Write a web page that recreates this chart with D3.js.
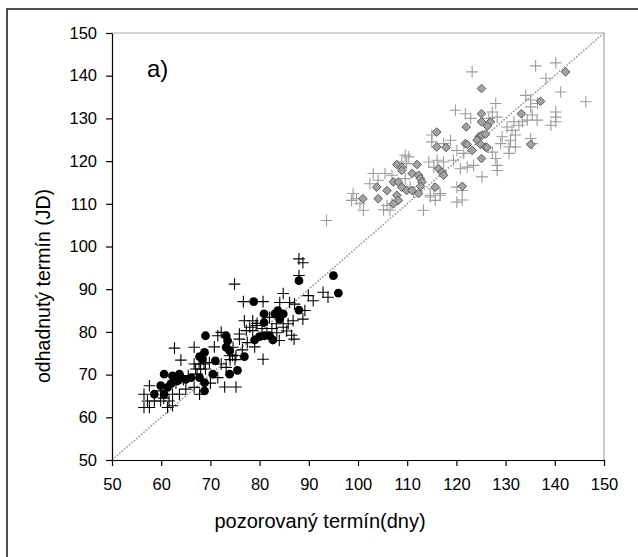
<!DOCTYPE html>
<html><head><meta charset="utf-8">
<script src="https://cdn.jsdelivr.net/npm/d3@7"></script>
<style>body{margin:0;background:#fff}svg{display:block}text{font-family:Arial,"Liberation Sans",sans-serif}</style>
</head><body><svg id="c" width="638" height="557"></svg>
<script>
const xTicks = [50,60,70,80,90,100,110,120,130,140,150];
const yTicks = [50,60,70,80,90,100,110,120,130,140,150];
const xTitle = "pozorovaný termín(dny)";
const yTitle = "odhadnutý termín (JD)";
const panelLabel = "a)";

// black crosses (lower group)
const blackCross = [
[62.7,76.2],[66.7,76.4],[71.5,79.1],[70.8,76.5],[64.0,73.4],
[66.7,72.5],[67.7,72.5],[68.7,72.5],[67.0,71.3],[68.0,71.3],[69.0,71.3],[67.3,70.1],
[69.8,72.8],[72.2,72.5],[73.2,71.7],[74.5,74.5],[75.0,73.5],[74.0,73.5],
[57.6,67.4],[56.5,65.4],[57.2,63.8],[58.6,63.8],[56.5,62.3],[57.6,62.3],[59.9,63.8],
[61.6,63.8],[61.3,62.3],[62.3,62.7],[63.7,65.4],[66.7,67.0],[67.8,65.4],[72.9,67.1],
[75.2,67.1],[62.3,65.4],[65.0,66.6],[71.5,69.3],[59.9,66.2],
[88.0,97.1],[88.8,96.2],[88.0,93.2],[74.9,91.2],[84.8,89.0],[76.7,87.1],[80.7,87.1],
[84.1,86.9],[86.1,86.9],[87.1,86.5],[89.9,88.5],[90.9,87.3],[92.9,89.3],[93.9,88.1],
[89.2,85.0],[88.8,83.0],[76.9,82.6],[78.6,82.6],[78.0,81.1],[82.0,83.4],[83.4,81.9],
[84.8,81.1],[85.8,81.9],[86.8,82.6],[77.3,80.3],[78.6,80.3],[79.3,81.5],[75.9,79.5],
[75.9,78.3],[72.2,79.9],[74.6,76.4],[73.9,74.4],[75.2,74.4],[80.7,73.6],
[79.5,82.0],[80.5,80.8],[81.5,79.8],[82.5,80.8],[83.5,79.8],[85.5,80.2],[86.5,79.2],
[77.5,77.5],[76.5,75.8],[79.0,76.5],[87.0,78.3],[84.0,78.0],
[65.5,69.8],[64.5,68.8],[70.0,68.0],[63.0,68.0],[60.5,64.5]
];
// black circles (lower group)
const blackDot = [
[69.0,79.1],[73.2,79.1],[73.5,77.9],[73.2,76.4],[73.9,75.6],[68.8,75.2],[67.8,74.2],
[68.4,73.6],[71.0,73.2],[60.6,70.1],[62.3,69.7],[63.7,70.1],[64.0,69.3],[65.0,68.9],
[66.1,69.3],[67.8,69.3],[68.8,68.1],[70.5,70.1],[73.9,70.1],[63.3,68.5],[62.0,67.9],
[59.9,67.4],[61.3,67.0],[58.6,65.4],[60.6,65.4],[68.8,66.2],
[88.0,92.0],[95.0,93.2],[96.0,89.1],[78.8,87.1],[88.0,85.1],[80.9,84.2],[83.7,85.0],
[83.1,84.2],[84.8,84.2],[84.1,83.0],[80.9,82.2],[79.0,78.1],[80.0,78.9],[81.0,79.1],
[82.0,79.1],[82.7,78.1],[76.9,74.2],[75.5,71.0]
];
// grey crosses (upper group)
const greyCross = [
[93.6,106.1],[115.0,126.1],[109.6,121.4],[110.3,121.0],[108.9,119.8],[109.9,119.4],
[114.4,119.8],[115.4,118.6],[116.1,120.2],[117.4,119.8],[103.1,117.1],[104.1,115.5],
[102.4,114.7],[105.5,117.1],[106.9,116.7],[99.0,112.4],[99.7,111.2],[98.7,110.8],
[100.4,110.0],[101.1,108.5],[105.2,108.6],[105.9,109.6],[106.9,110.0],[106.5,108.5],
[113.3,108.5],[114.7,111.6],[115.7,110.8],[116.7,112.0],[115.4,113.5],[109.6,115.9],
[110.6,113.9],[111.3,112.7],[123.2,140.9],[136.1,142.3],[140.2,143.0],[138.2,139.4],
[141.2,136.2],[146.3,133.9],[134.1,135.4],[135.1,134.3],[136.5,133.5],[119.8,131.9],
[128.0,133.5],[127.3,131.5],[128.3,130.3],[126.6,130.0],[121.8,131.1],[122.9,130.0],
[135.1,132.7],[135.4,130.8],[134.4,129.6],[133.4,129.2],[136.4,129.6],[140.2,131.5],
[140.2,130.3],[140.2,129.2],[139.2,128.4],[131.7,129.2],[132.7,128.4],[130.3,128.0],
[131.3,127.2],[132.0,126.1],[129.3,125.7],[131.0,124.9],[130.7,123.3],[135.1,125.3],
[135.4,124.1],[115.0,124.5],[117.4,124.1],[118.8,124.9],[120.1,122.5],[121.5,121.8],
[129.0,124.1],[132.0,123.3],[130.7,121.8],[127.3,122.1],[128.0,120.6],[125.2,116.3],
[120.1,113.9],[121.2,113.1],[120.1,110.4],[121.2,110.9],[116.7,112.4],[114.7,112.0],
[119.4,120.2],[120.8,118.2],[122.2,118.6],[123.5,119.0],[128.3,119.0],[128.3,117.8]
];
// grey diamonds (upper group)
const greyDiamond = [
[116.0,126.8],[116.0,123.3],[117.9,123.2],[107.9,119.2],[108.9,118.6],[108.9,117.8],
[112.0,119.2],[116.4,118.2],[117.1,117.4],[117.4,116.7],[111.0,117.1],[112.3,116.7],
[112.7,115.9],[113.0,115.1],[112.7,114.1],[107.2,115.1],[108.2,115.1],[108.9,113.9],
[109.9,113.1],[111.0,113.1],[112.3,112.4],[103.8,113.9],[105.9,113.1],[104.1,111.2],
[101.0,111.2],[107.9,112.0],[108.2,110.8],[107.2,110.0],[115.7,113.9],
[142.2,140.9],[125.1,137.0],[137.1,134.0],[133.2,131.1],[125.1,131.1],[125.1,129.2],
[126.9,129.2],[126.3,128.2],[122.0,128.0],[124.6,125.7],[125.2,126.1],[125.9,126.3],
[124.2,124.9],[124.9,123.9],[125.9,123.3],[123.2,122.5],[121.8,124.1],[135.1,123.9],
[125.1,120.6],[122.2,123.9],[126.2,123.2],[121.2,114.1]
];

const svg = d3.select("#c");
svg.append("rect").attr("width",638).attr("height",557).attr("fill","#fff");
svg.append("rect").attr("x",7).attr("y",9).attr("width",700).attr("height",700)
  .attr("fill","none").attr("stroke","#222").attr("stroke-width",1.6);

const x = d3.scaleLinear().domain([50,150]).range([112,604]);
const y = d3.scaleLinear().domain([50,150]).range([460,33]);

svg.append("path").attr("d",`M${x(50)},${y(150)}H${x(150)}V${y(50)}`)
  .attr("fill","none").attr("stroke","#a8a8a8").attr("stroke-width",1.2);

svg.append("line").attr("x1",x(50)).attr("y1",y(50)).attr("x2",x(150)).attr("y2",y(150))
  .attr("stroke","#9a9a9a").attr("stroke-width",1.6).attr("stroke-dasharray","1.6,1.6");

const gx = svg.append("g").attr("transform",`translate(0,${y(50)})`)
  .call(d3.axisBottom(x).tickValues(xTicks).tickSize(6).tickPadding(12).tickSizeOuter(0));
const gy = svg.append("g").attr("transform",`translate(${x(50)},0)`)
  .call(d3.axisLeft(y).tickValues(yTicks).tickSize(6).tickPadding(9).tickSizeOuter(0));
[gx,gy].forEach(g=>{
  g.selectAll("path,line").attr("stroke","#000").attr("stroke-width",1.2);
  g.selectAll("text").attr("font-size",16.5).attr("fill","#000").attr("font-family","Arial, 'Liberation Sans', sans-serif");
});

const plus = 5.8;
function drawCross(data,color){
  svg.append("g").selectAll("path").data(data).join("path")
    .attr("d",d=>`M${x(d[0])-plus},${y(d[1])}H${x(d[0])+plus}M${x(d[0])},${y(d[1])-plus}V${y(d[1])+plus}`)
    .attr("stroke",color).attr("stroke-width",1.1).attr("fill","none");
}
drawCross(greyCross,"#9c9c9c");
drawCross(blackCross,"#000");

svg.append("g").selectAll("circle").data(blackDot).join("circle")
  .attr("cx",d=>x(d[0])).attr("cy",d=>y(d[1])).attr("r",4.4).attr("fill","#000");

const dm = 4.3;
svg.append("g").selectAll("path").data(greyDiamond).join("path")
  .attr("d",d=>`M${x(d[0])},${y(d[1])-dm}L${x(d[0])+dm},${y(d[1])}L${x(d[0])},${y(d[1])+dm}L${x(d[0])-dm},${y(d[1])}Z`)
  .attr("fill","#a3a3a3").attr("stroke","#5a5a5a").attr("stroke-width",1);

svg.append("text").attr("x",147).attr("y",77).attr("font-size",24).text(panelLabel);
svg.append("text").attr("x",320).attr("y",528).attr("text-anchor","middle").attr("font-size",20).text(xTitle);
svg.append("text").attr("transform","translate(50,286) rotate(-90)").attr("text-anchor","middle").attr("font-size",19.5).text(yTitle);
</script></body></html>
